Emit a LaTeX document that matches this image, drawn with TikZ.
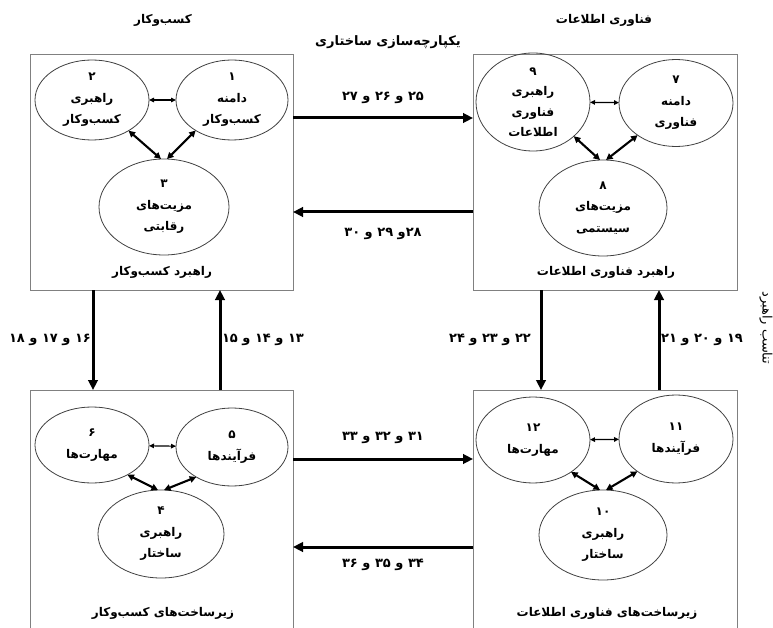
\documentclass[tikz,border=0pt]{standalone}
\usepackage{fontspec}
\usetikzlibrary{shapes.geometric,arrows.meta}
\TeXXeTstate=1
\newfontfamily\arabicfont[Script=Arabic]{DejaVu Sans}
\newcommand{\rtl}[1]{\beginR #1\endR}
\begin{document}
\begin{tikzpicture}[x=1pt,y=-1pt,
  every node/.style={font=\arabicfont\bfseries\fontsize{12}{21.5}\selectfont, text=black},
  boxnode/.style={draw=black!50, line width=0.9pt, rectangle, inner sep=0pt, outer sep=0pt},
  ell/.style={draw=black!75, line width=0.8pt, ellipse, inner sep=0pt, outer sep=0pt, align=center},
  bigarrow/.style={line width=3pt, -{Triangle[length=10pt,width=9.5pt]}},
  diag/.style={line width=2.1pt, {Triangle[length=6.5pt,width=6.5pt]}-{Triangle[length=6.5pt,width=6.5pt]}},
  flat/.style={line width=1.2pt, {Triangle[length=5pt,width=4.5pt]}-{Triangle[length=5pt,width=4.5pt]}},
  numlabel/.style={font=\arabicfont\bfseries\fontsize{13}{15}\selectfont},
  plain/.style={font=\arabicfont\fontsize{13}{15}\selectfont}
]
\useasboundingbox (0,0) rectangle (773,628);

% boxes
\node[boxnode, minimum width=263pt, minimum height=236pt] (tl) at (161.5,172) {};
\node[boxnode, minimum width=264pt, minimum height=236pt] (tr) at (605,172) {};
\node[boxnode, minimum width=263pt, minimum height=240pt] (bl) at (161.5,510) {};
\node[boxnode, minimum width=264pt, minimum height=240pt] (br) at (605,510) {};

% titles
\node (t1) at (163,20) {\rtl{کسب‌وکار}};
\node (t2) at (604,20) {\rtl{فناوری اطلاعات}};
\node[numlabel] (t3) at (388,42) {\rtl{یکپارچه‌سازی ساختاری}};
\node[plain, rotate=-90] (t4) at (766,328) {\rtl{تناسب راهبرد}};

% box captions
\node (c1) at (162,272) {\rtl{راهبرد کسب‌وکار}};
\node (c2) at (606,272) {\rtl{راهبرد فناوری اطلاعات}};
\node (c3) at (163,613) {\rtl{زیرساخت‌های کسب‌وکار}};
\node (c4) at (607,613) {\rtl{زیرساخت‌های فناوری اطلاعات}};

% ellipses top-left
\node[ell, minimum width=112pt, minimum height=80pt] (e1) at (232,100) {\rtl{۱}\\\rtl{دامنه}\\\rtl{کسب‌وکار}};
\node[ell, minimum width=114pt, minimum height=80pt] (e2) at (92,100) {\rtl{۲}\\\rtl{راهبری}\\\rtl{کسب‌وکار}};
\node[ell, minimum width=130pt, minimum height=96pt] (e3) at (164,207) {\rtl{۳}\\\rtl{مزیت‌های}\\\rtl{رقابتی}};
% ellipses top-right
\node[ell, minimum width=114pt, minimum height=87pt] (e7) at (676,103) {\rtl{۷}\\\rtl{دامنه}\\\rtl{فناوری}};
\node[ell, minimum width=128pt, minimum height=96pt] (e8) at (603,208) {\rtl{۸}\\\rtl{مزیت‌های}\\\rtl{سیستمی}};
\node[ell, minimum width=114pt, minimum height=88pt, font=\arabicfont\bfseries\fontsize{12}{20.5}\selectfont] (e9) at (533,102) {\rtl{۹}\\\rtl{راهبری}\\\rtl{فناوری}\\\rtl{اطلاعات}};
% ellipses bottom-left
\node[ell, minimum width=112pt, minimum height=78pt] (e5) at (232,447) {\rtl{۵}\\\rtl{فرآیندها}};
\node[ell, minimum width=114pt, minimum height=76pt] (e6) at (92,445) {\rtl{۶}\\\rtl{مهارت‌ها}};
\node[ell, minimum width=126pt, minimum height=88pt] (e4) at (161,534) {\rtl{۴}\\\rtl{راهبری}\\\rtl{ساختار}};
% ellipses bottom-right
\node[ell, minimum width=114pt, minimum height=88pt] (e11) at (676,439) {\rtl{۱۱}\\\rtl{فرآیندها}};
\node[ell, minimum width=114pt, minimum height=86pt] (e12) at (533,440) {\rtl{۱۲}\\\rtl{مهارت‌ها}};
\node[ell, minimum width=128pt, minimum height=90pt] (e10) at (603,535) {\rtl{۱۰}\\\rtl{راهبری}\\\rtl{ساختار}};

% inner arrows
\draw[flat] (e2) -- (e1);
\draw[diag] (e2.-40) -- ([xshift=-3pt]e3.north);
\draw[diag] (e1.-140) -- ([xshift=3pt]e3.north);
\draw[flat] (e9) -- (e7);
\draw[diag] (e9.-40) -- ([xshift=-3pt]e8.north);
\draw[diag] (e7.-140) -- ([xshift=3pt]e8.north);
\draw[flat] (e6) -- (e5);
\draw[diag] (e6.-40) -- ([xshift=-3pt]e4.north);
\draw[diag] (e5.-140) -- ([xshift=3pt]e4.north);
\draw[flat] (e12) -- (e11);
\draw[diag] (e12.-40) -- ([xshift=-3pt]e10.north);
\draw[diag] (e11.-140) -- ([xshift=3pt]e10.north);

% big arrows between boxes
\draw[bigarrow] ([yshift=54pt]tl.east) -- ([yshift=54pt]tr.west);
\draw[bigarrow] ([yshift=-40pt]tr.west) -- ([yshift=-40pt]tl.east);
\draw[bigarrow] ([yshift=51pt]bl.east) -- ([yshift=51pt]br.west);
\draw[bigarrow] ([yshift=-37pt]br.west) -- ([yshift=-37pt]bl.east);
\draw[bigarrow] ([xshift=-68.5pt]tl.south) -- ([xshift=-68.5pt]bl.north);
\draw[bigarrow] ([xshift=58.5pt]bl.north) -- ([xshift=58.5pt]tl.south);
\draw[bigarrow] ([xshift=-64pt]tr.south) -- ([xshift=-64pt]br.north);
\draw[bigarrow] ([xshift=54pt]br.north) -- ([xshift=54pt]tr.south);

% arrow labels
\node[numlabel] (l1) at (383,98) {\rtl{۲۵ و ۲۶ و ۲۷}};
\node[numlabel] (l2) at (383,234) {\rtl{۲۸و ۲۹ و ۳۰}};
\node[numlabel] (l3) at (383,438) {\rtl{۳۱ و ۳۲ و ۳۳}};
\node[numlabel] (l4) at (383,565) {\rtl{۳۴ و ۳۵ و ۳۶}};
\node[numlabel] (l5) at (50,340) {\rtl{۱۶ و ۱۷ و ۱۸}};
\node[numlabel] (l6) at (263,340) {\rtl{۱۳ و ۱۴ و ۱۵}};
\node[numlabel] (l7) at (490,340) {\rtl{۲۲ و ۲۳ و ۲۴}};
\node[numlabel] (l8) at (702,340) {\rtl{۱۹ و ۲۰ و ۲۱}};
\end{tikzpicture}
\end{document}
